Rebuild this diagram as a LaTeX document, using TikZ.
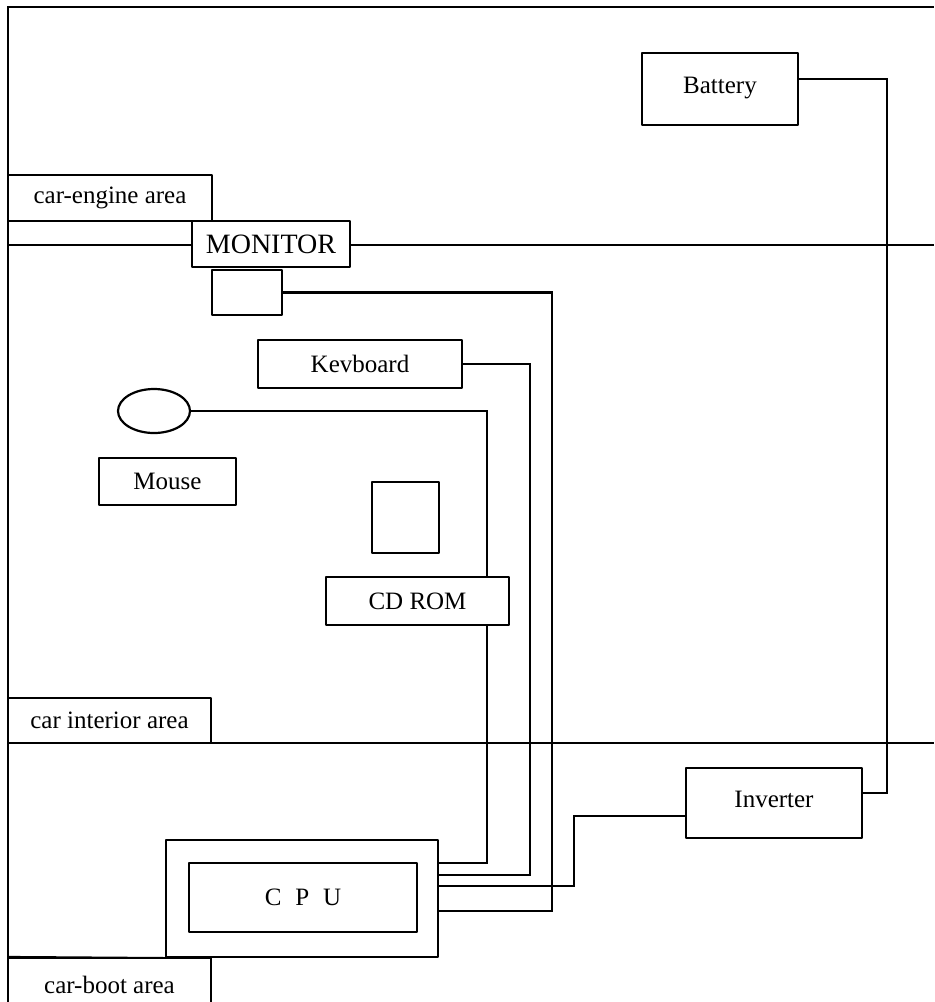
\documentclass[tikz,border=0pt]{standalone}
\usepackage{fontspec}
\setmainfont{Liberation Serif}
\usetikzlibrary{shapes.geometric,backgrounds}

\begin{document}
\begin{tikzpicture}[x=0.5pt, y=-0.5pt, line width=1.1pt, line join=round,
		font=\fontsize{12.5}{14}\selectfont,
		box/.style={draw, fill=white, inner sep=0pt},
		border/.style={draw, line width=1.1pt},
		cable/.style={draw, line width=1.1pt}]
	\useasboundingbox (0,0) rectangle (934,1002);
	% areas
	\node[box, minimum width=102pt, minimum height=23pt] (engine) at (110,198) {car-engine area};
	\node[box, minimum width=101.5pt, minimum height=22.5pt] (interior) at (109.5,720.5) {car interior area};
	\node[box, minimum width=101.5pt, minimum height=27pt] (boot) at (109.5,985) {car-boot area};
	% devices
	\node[box, minimum width=78pt, minimum height=36pt, text depth=4pt] (battery) at (720,89) {Battery};
	\node[box, minimum width=79pt, minimum height=23pt, font=\fontsize{14}{16}\selectfont] (monitor) at (271,244) {MONITOR};
	\node[box, minimum width=35pt, minimum height=22.5pt] (monbase) at (247,292.5) {};
	\node[box, minimum width=102pt, minimum height=24pt] (keyboard) at (360,364) {Kevboard};
	\node[box, ellipse, minimum width=36pt, minimum height=22pt] (mouseball) at (154,411) {};
	\node[box, minimum width=68.5pt, minimum height=23.5pt] (mouse) at (167.5,481.5) {Mouse};
	\node[box, minimum width=33.5pt, minimum height=35.5pt] (cddrive) at (405.5,517.5) {};
	\node[box, minimum width=91.5pt, minimum height=24pt] (cdrom) at (417.5,601) {CD ROM};
	\node[box, minimum width=88pt, minimum height=35pt, text depth=4pt] (inverter) at (774,803) {Inverter};
	\node[box, minimum width=136pt, minimum height=58.5pt] (cpucase) at (302,898.5) {};
	\node[box, minimum width=114pt, minimum height=34.5pt] (cpu) at (303,897.5) {{\spaceskip=0.55em C P U}};
	% ports
	\coordinate (port1) at ([yshift=17.75pt]cpucase.east);
	\coordinate (port2) at ([yshift=11.75pt]cpucase.east);
	\coordinate (port3) at ([yshift=6.25pt]cpucase.east);
	\coordinate (port4) at ([yshift=-6.25pt]cpucase.east);
	\coordinate (batout) at ([yshift=5pt]battery.east);
	\coordinate (invout) at ([yshift=5pt]inverter.east);
	\coordinate (invin) at ([yshift=-6.5pt]inverter.west);
	\begin{pgfonlayer}{background}
		\draw[border] (8,1002) -- (8,7) -- (934,7);
		\draw[border] (8,245) -- (934,245);
		\draw[border] (8,743) -- (934,743);
		\draw[border] (8,957) -- (cpucase.south west);
		% cables
		\draw[cable] (batout) -- ++(88,0) |- (invout);
		\draw[cable] (invin) -- ++(-111,0) |- (port3);
		\draw[cable] (mouseball.east) -- ++(296,0) |- (port1);
		\draw[cable] (keyboard.east) -- ++(67,0) |- (port2);
		\draw[cable] (monbase.east) -- ++(269,0) |- (port4);
	\end{pgfonlayer}
\end{tikzpicture}
\end{document}
